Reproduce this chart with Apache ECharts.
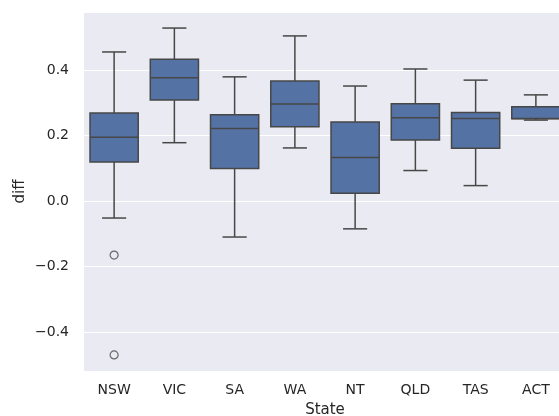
<!DOCTYPE html>
<html>
<head>
<meta charset="utf-8">
<script src="https://cdn.jsdelivr.net/npm/echarts@6/dist/echarts.min.js"></script>
<style>
  html, body { margin: 0; padding: 0; background: #fff; }
  #chart { width: 559px; height: 416px; }
</style>
</head>
<body>
<div id="chart"></div>
<script>
// states along the x axis
var states = ['NSW', 'VIC', 'SA', 'WA', 'NT', 'QLD', 'TAS', 'ACT'];
// box stats per state
var lowerWhisker = [-0.052, 0.178, -0.110, 0.162, -0.085, 0.093, 0.047, 0.247];
var q1 =           [0.119, 0.308, 0.099, 0.227, 0.024, 0.186, 0.161, 0.251];
var median =       [0.195, 0.376, 0.221, 0.296, 0.133, 0.254, 0.252, 0.252];
var q3 =           [0.269, 0.433, 0.263, 0.366, 0.241, 0.297, 0.270, 0.288];
var upperWhisker = [0.455, 0.528, 0.379, 0.504, 0.351, 0.403, 0.369, 0.324];
// outliers: [state, value]
var outliers = [['NSW', -0.165], ['NSW', -0.470]];

var boxData = states.map(function (s, i) {
    return [i, lowerWhisker[i], q1[i], median[i], q3[i], upperWhisker[i]];
});

var lineColor = '#474747';
var fillColor = '#5572a4';

function fmt(v) {
    return v.toFixed(1).replace('-', '\u2212');
}

// seaborn style box: whisker caps are half the box width
function renderBox(params, api) {
    var idx = api.value(0);
    var band = api.size([1, 0])[0];
    var boxW = band * 0.8;
    var capW = boxW / 2;
    var x = api.coord([idx, 0])[0];
    var yLw = api.coord([idx, api.value(1)])[1];
    var yQ1 = api.coord([idx, api.value(2)])[1];
    var yMed = api.coord([idx, api.value(3)])[1];
    var yQ3 = api.coord([idx, api.value(4)])[1];
    var yUw = api.coord([idx, api.value(5)])[1];
    var ls = { stroke: lineColor, lineWidth: 1.5 };
    return {
        type: 'group',
        children: [
            { type: 'line', shape: { x1: x, y1: yQ3, x2: x, y2: yUw }, style: ls },
            { type: 'line', shape: { x1: x, y1: yQ1, x2: x, y2: yLw }, style: ls },
            { type: 'line', shape: { x1: x - capW / 2, y1: yUw, x2: x + capW / 2, y2: yUw }, style: ls },
            { type: 'line', shape: { x1: x - capW / 2, y1: yLw, x2: x + capW / 2, y2: yLw }, style: ls },
            {
                type: 'rect',
                shape: { x: x - boxW / 2, y: yQ3, width: boxW, height: yQ1 - yQ3 },
                style: { fill: fillColor, stroke: lineColor, lineWidth: 1.5 }
            },
            { type: 'line', shape: { x1: x - boxW / 2, y1: yMed, x2: x + boxW / 2, y2: yMed }, style: ls }
        ]
    };
}

var myChart = echarts.init(document.getElementById('chart'));
var option = {
    backgroundColor: '#ffffff',
    textStyle: { fontFamily: 'DejaVu Sans' },
    grid: {
        show: true,
        left: 84,
        top: 12,
        width: 482,
        height: 359,
        outerBoundsMode: 'none',
        containLabel: false,
        backgroundColor: '#eaeaf2',
        borderWidth: 0
    },
    xAxis: {
        type: 'category',
        data: states,
        name: 'State',
        nameLocation: 'middle',
        nameGap: 32,
        nameTextStyle: { fontSize: 15, color: '#262626' },
        axisLine: { show: false },
        axisTick: { show: false },
        axisLabel: { fontSize: 14, color: '#262626', margin: 12 },
        splitLine: { show: false }
    },
    yAxis: {
        type: 'value',
        min: -0.519,
        max: 0.577,
        splitNumber: 5,
        name: 'diff',
        nameLocation: 'middle',
        nameGap: 56,
        nameMoveOverlap: false,
        nameTextStyle: { fontSize: 15, color: '#262626' },
        axisLine: { show: false },
        axisTick: { show: false },
        axisLabel: {
            fontSize: 14,
            color: '#262626',
            margin: 15,
            showMinLabel: false,
            showMaxLabel: false,
            formatter: fmt
        },
        splitLine: { lineStyle: { color: '#ffffff', width: 1.2 } }
    },
    series: [{
        type: 'custom',
        data: boxData,
        renderItem: renderBox,
        encode: { x: 0, y: [1, 2, 3, 4, 5] }
    }, {
        type: 'scatter',
        data: outliers,
        symbol: 'circle',
        symbolSize: 8,
        itemStyle: {
            color: 'rgba(0,0,0,0)',
            borderColor: lineColor,
            borderWidth: 1.2
        }
    }]
};
myChart.setOption(option);
</script>
</body>
</html>
